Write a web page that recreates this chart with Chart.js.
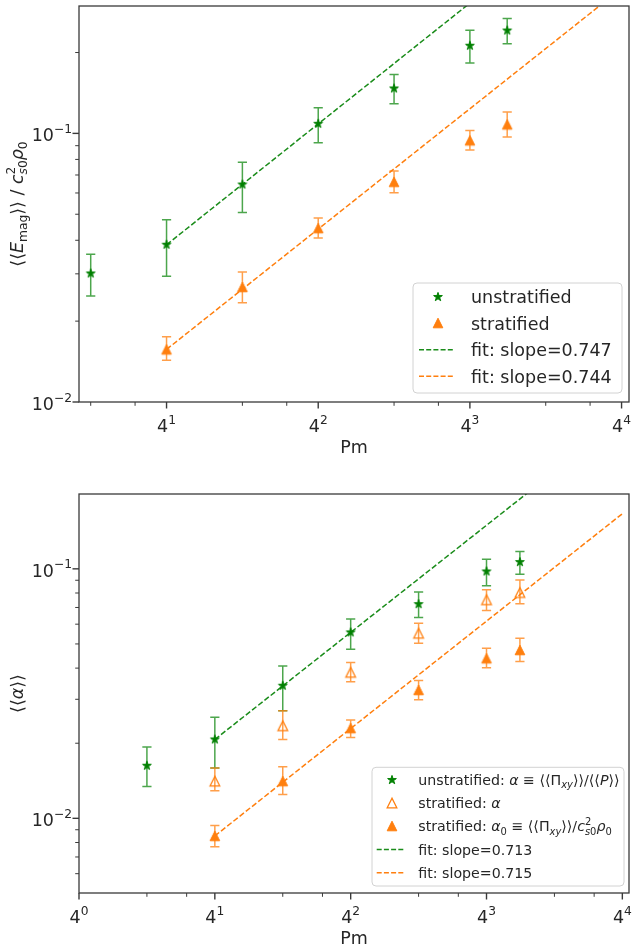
<!DOCTYPE html>
<html>
<head>
<meta charset="utf-8">
<script src="https://cdn.jsdelivr.net/npm/chart.js@4/dist/chart.umd.min.js"></script>
<style>
  html, body { margin: 0; padding: 0; background: #fff; }
  canvas { position: absolute; left: 0; }
</style>
</head>
<body>
<canvas id="emagChart" width="635" height="460" style="top:0"></canvas>
<canvas id="alphaChart" width="635" height="492" style="top:460px"></canvas>
<script>
// ---- data -------------------------------------------------------------
const pmUnstrat = [2, 4, 8, 16, 32, 64, 90];
const pmStrat   = [4, 8, 16, 32, 64, 90];

// magnetic energy, unstratified / stratified
const emagUnstrat   = [0.0301, 0.0385, 0.0645, 0.1086, 0.147, 0.212, 0.2415];
const emagUnstratLo = [0.0248, 0.0294, 0.0508, 0.0923, 0.1288, 0.183, 0.2155];
const emagUnstratHi = [0.0355, 0.0477, 0.078, 0.1245, 0.1655, 0.242, 0.268];
const emagStrat     = [0.0157, 0.0268, 0.0444, 0.066, 0.0942, 0.108];
const emagStratLo   = [0.0143, 0.0234, 0.0408, 0.0601, 0.0868, 0.097];
const emagStratHi   = [0.0175, 0.0305, 0.0484, 0.0724, 0.1026, 0.120];

// stress-to-pressure ratios
const alphaUnstrat   = [0.01625, 0.0207, 0.034, 0.0556, 0.0722, 0.0976, 0.1064];
const alphaUnstratLo = [0.0134, 0.0159, 0.027, 0.0476, 0.0638, 0.0855, 0.0952];
const alphaUnstratHi = [0.0193, 0.0254, 0.0408, 0.063, 0.0807, 0.1093, 0.1173];
const alphaStrat     = [0.0141, 0.0235, 0.0385, 0.0552, 0.0752, 0.0804];
const alphaStratLo   = [0.0129, 0.0207, 0.0353, 0.0503, 0.0681, 0.0724];
const alphaStratHi   = [0.0159, 0.027, 0.0421, 0.0605, 0.0824, 0.0903];
const alpha0Strat    = [0.0085, 0.0141, 0.023, 0.0327, 0.0438, 0.0473];
const alpha0StratLo  = [0.0077, 0.01245, 0.0211, 0.0299, 0.0401, 0.0425];
const alpha0StratHi  = [0.00935, 0.0161, 0.0248, 0.0357, 0.0481, 0.0527];

// power-law fits: [unstratified, stratified], value at Pm = 4
const fitPm          = [4, 256];
const emagFitSlopes  = [0.747, 0.744];
const emagFitAt4     = [0.0385, 0.0157];
const alphaFitSlopes = [0.713, 0.715];
const alphaFitAt4    = [0.0207, 0.0085];

// ticks (Pm axis is in powers of 4, y axis in decades)
const xTickExp   = [0, 1, 2, 3, 4];
const xMinorTick = [2, 3, 8, 12, 32, 48, 128, 192];
const yTickExp   = [-2, -1];
const yMinorTick = [0.006, 0.007, 0.008, 0.009, 0.02, 0.03, 0.04, 0.05, 0.06, 0.07, 0.08, 0.09, 0.2];

// ---- styling ------------------------------------------------------------
const FONT = '"DejaVu Sans", sans-serif';
const TEXT = '#262626';
const GREEN = '#008000';
const GREEN_BAR = 'rgba(0,128,0,0.7)';
const GREEN_FIT = '#1a8c1a';
const ORANGE = '#ff7f0e';
const ORANGE_BAR = 'rgba(255,127,14,0.75)';

function makeMarker(kind, color) {
  const c = document.createElement('canvas');
  c.width = 14; c.height = 14;
  const g = c.getContext('2d');
  const m = 7;
  g.fillStyle = color; g.strokeStyle = color; g.lineWidth = 1; g.lineJoin = 'miter';
  g.beginPath();
  if (kind === 'star') {
    const R = 4.6, r = R * 0.381966;
    for (let k = 0; k < 10; k++) {
      const a = -Math.PI / 2 + k * Math.PI / 5;
      const rr = k % 2 ? r : R;
      g.lineTo(m + rr * Math.cos(a), m + rr * Math.sin(a));
    }
    g.closePath(); g.fill(); g.stroke();
  } else {
    const h = 4.8;
    g.moveTo(m, m - h); g.lineTo(m - h, m + h); g.lineTo(m + h, m + h); g.closePath();
    if (kind === 'tri') { g.fill(); g.stroke(); }
    else { g.lineWidth = 1.3; g.stroke(); }
  }
  return c;
}
const starImg = makeMarker('star', GREEN);
const triImg = makeMarker('tri', ORANGE);
const openTriImg = makeMarker('open', ORANGE);

// ---- rich text (italic, sub- and superscripts) ----------------------------
function richLayout(ctx, items, size, x, y, draw) {
  let cx = x, stackEnd = -Infinity;
  for (const it of items) {
    const t = it[0], f = it[1] || '';
    const sub = f.includes('b'), sup = f.includes('p');
    if (!sub && !sup) { cx = Math.max(cx, stackEnd); stackEnd = -Infinity; }
    const s = (sub || sup) ? size * 0.7 : size;
    ctx.font = (f.includes('i') ? 'italic ' : '') + s.toFixed(2) + 'px ' + FONT;
    const w = ctx.measureText(t).width;
    const dy = sub ? size * 0.22 : sup ? -size * 0.48 : 0;
    if (draw) ctx.fillText(t, cx, y + dy);
    if (f.includes('k')) stackEnd = cx + w; else cx += w;
  }
  return Math.max(cx, stackEnd) - x;
}
function drawRich(ctx, items, size, x, y, align) {
  ctx.textBaseline = 'alphabetic';
  ctx.textAlign = 'left';
  const w = richLayout(ctx, items, size, 0, 0, false);
  const x0 = align === 'center' ? x - w / 2 : align === 'right' ? x - w : x;
  richLayout(ctx, items, size, x0, y, true);
}

// ---- axes decoration, error bars and legend -------------------------------
function decor(spec) {
  return {
    id: 'decor',
    beforeDatasetsDraw(chart) {
      const { ctx, scales: { x, y } } = chart;
      ctx.save();
      ctx.lineWidth = 1.5;
      chart.data.datasets.forEach(ds => {
        if (!ds.errLo) return;
        ctx.strokeStyle = ds.barColor;
        ctx.beginPath();
        ds.data.forEach((p, k) => {
          const px = x.getPixelForValue(p.x);
          const y1 = y.getPixelForValue(ds.errLo[k]);
          const y2 = y.getPixelForValue(ds.errHi[k]);
          const cap = 4.6;
          ctx.moveTo(px, y1); ctx.lineTo(px, y2);
          ctx.moveTo(px - cap, y1); ctx.lineTo(px + cap, y1);
          ctx.moveTo(px - cap, y2); ctx.lineTo(px + cap, y2);
        });
        ctx.stroke();
      });
      ctx.restore();
    },
    afterDraw(chart) {
      const { ctx, chartArea: a, scales: { x, y } } = chart;
      const inX = v => v >= x.min * 0.9999 && v <= x.max * 1.0001;
      const inYMajor = v => v >= y.min * 0.9999 && v <= y.max * 1.0001;
      const inYMinor = v => v > y.min * 1.001 && v < y.max / 1.001;
      ctx.save();
      ctx.strokeStyle = '#3a3a3a';
      ctx.fillStyle = TEXT;
      const seg = (x1, y1, x2, y2, w) => {
        ctx.lineWidth = w; ctx.beginPath(); ctx.moveTo(x1, y1); ctx.lineTo(x2, y2); ctx.stroke();
      };
      // x ticks
      xMinorTick.filter(inX).forEach(v => {
        const px = x.getPixelForValue(v);
        seg(px, a.bottom, px, a.bottom + 3.8, 1);
      });
      xTickExp.forEach(e => {
        const v = Math.pow(4, e);
        if (!inX(v)) return;
        const px = x.getPixelForValue(v);
        seg(px, a.bottom, px, a.bottom + 6.5, 1.4);
        drawRich(ctx, [['4'], [String(e), 'p']], 17.5, px, a.bottom + 30, 'center');
      });
      // y ticks
      yMinorTick.filter(inYMinor).forEach(v => {
        const py = y.getPixelForValue(v);
        seg(a.left - 3.8, py, a.left, py, 1);
      });
      yTickExp.forEach(e => {
        const v = Math.pow(10, e);
        if (!inYMajor(v)) return;
        const py = y.getPixelForValue(v);
        seg(a.left - 6.5, py, a.left, py, 1.4);
        drawRich(ctx, [['10'], ['\u2212' + Math.abs(e), 'p']], 17.5, a.left - 7, py + 8, 'right');
      });
      // frame
      ctx.lineWidth = 1.3;
      ctx.strokeRect(a.left, a.top, a.right - a.left, a.bottom - a.top);
      // axis titles
      drawRich(ctx, [['Pm']], 17.5, (a.left + a.right) / 2, a.bottom + 50.5, 'center');
      ctx.save();
      ctx.translate(spec.yTitleX, (a.top + a.bottom) / 2);
      ctx.rotate(-Math.PI / 2);
      drawRich(ctx, spec.yTitle, 17.5, 0, 0, 'center');
      ctx.restore();
      // legend
      const L = spec.legend;
      const [x0, y0, x1, y1] = L.box;
      ctx.beginPath();
      ctx.roundRect(x0, y0, x1 - x0, y1 - y0, 4);
      ctx.fillStyle = 'rgba(255,255,255,0.85)';
      ctx.fill();
      ctx.strokeStyle = '#d2d2d2';
      ctx.lineWidth = 1;
      ctx.stroke();
      L.rows.forEach((r, k) => {
        const base = y0 + L.first + k * L.step;
        const cy = base - L.markDy;
        if (r.img) {
          ctx.drawImage(r.img, Math.round(L.markX - r.img.width / 2), Math.round(cy - r.img.height / 2));
        } else {
          ctx.save();
          ctx.strokeStyle = r.color;
          ctx.lineWidth = 1.5;
          ctx.setLineDash([5, 2.2]);
          ctx.beginPath(); ctx.moveTo(L.lineX0, cy); ctx.lineTo(L.lineX1, cy); ctx.stroke();
          ctx.restore();
        }
        ctx.fillStyle = TEXT;
        drawRich(ctx, r.text, L.size, L.textX, base, 'left');
      });
      ctx.restore();
    }
  };
}

// ---- chart builders ---------------------------------------------------------
const pts = (xs, ys) => xs.map((v, k) => ({ x: v, y: ys[k] }));
const fitLine = (at4, slope) => fitPm.map(p => ({ x: p, y: at4 * Math.pow(p / 4, slope) }));

function markerSet(label, xs, ys, lo, hi, img, barColor) {
  return {
    type: 'scatter', label, data: pts(xs, ys), errLo: lo, errHi: hi, barColor,
    pointStyle: img, pointRadius: 5, pointHoverRadius: 5, showLine: false
  };
}
function fitSet(label, at4, slope, color) {
  return {
    type: 'line', label, data: fitLine(at4, slope), borderColor: color, borderWidth: 1.5,
    borderDash: [5.5, 2.4], pointRadius: 0, fill: false, tension: 0, clip: 0
  };
}

function makeChart(id, datasets, xMin, xMax, yMin, yMax, pad, xAxisH, spec) {
  return new Chart(document.getElementById(id), {
    type: 'scatter',
    data: { datasets },
    options: {
      responsive: false, animation: false, devicePixelRatio: 1, events: [],
      layout: { padding: { top: pad, right: 5, left: 0, bottom: 0 } },
      plugins: { legend: { display: false }, tooltip: { enabled: false } },
      scales: {
        x: {
          type: 'logarithmic', min: xMin, max: xMax, bounds: 'data',
          grid: { display: false }, border: { display: false }, ticks: { display: false },
          afterFit: s => { s.height = xAxisH; }
        },
        y: {
          type: 'logarithmic', min: yMin, max: yMax, bounds: 'data',
          grid: { display: false }, border: { display: false }, ticks: { display: false },
          afterFit: s => { s.width = 79; }
        }
      }
    },
    plugins: [decor(spec)]
  });
}

const fitLabel = s => [['fit: slope=' + s.toFixed(3)]];

// magnetic energy vs Pm
makeChart('emagChart', [
  markerSet('unstratified', pmUnstrat, emagUnstrat, emagUnstratLo, emagUnstratHi, starImg, GREEN_BAR),
  markerSet('stratified', pmStrat, emagStrat, emagStratLo, emagStratHi, triImg, ORANGE_BAR),
  fitSet('fit unstratified', emagFitAt4[0], emagFitSlopes[0], GREEN_FIT),
  fitSet('fit stratified', emagFitAt4[1], emagFitSlopes[1], ORANGE)
], 1.797, 274, 0.01, 0.298, 4, 58, {
  yTitleX: 23,
  yTitle: [['\u27e8\u27e8'], ['E', 'i'], ['mag', 'b'], ['\u27e9\u27e9 / '], ['c', 'i'], ['2', 'pk'], ['s', 'bi'], ['0', 'b'], ['\u03c1', 'i'], ['0', 'b']],
  legend: {
    box: [413, 283, 622, 393], first: 20.3, step: 26.5, markDy: 6.6,
    markX: 438, lineX0: 419, lineX1: 454, textX: 471, size: 17.5,
    rows: [
      { img: starImg, text: [['unstratified']] },
      { img: triImg, text: [['stratified']] },
      { color: GREEN_FIT, text: fitLabel(emagFitSlopes[0]) },
      { color: ORANGE, text: fitLabel(emagFitSlopes[1]) }
    ]
  }
});

// alpha vs Pm
makeChart('alphaChart', [
  markerSet('unstratified', pmUnstrat, alphaUnstrat, alphaUnstratLo, alphaUnstratHi, starImg, GREEN_BAR),
  markerSet('stratified alpha', pmStrat, alphaStrat, alphaStratLo, alphaStratHi, openTriImg, ORANGE_BAR),
  markerSet('stratified alpha0', pmStrat, alpha0Strat, alpha0StratLo, alpha0StratHi, triImg, ORANGE_BAR),
  fitSet('fit unstratified', alphaFitAt4[0], alphaFitSlopes[0], GREEN_FIT),
  fitSet('fit stratified', alphaFitAt4[1], alphaFitSlopes[1], ORANGE)
], 1, 274, 0.00502, 0.1995, 34, 59, {
  yTitleX: 23,
  yTitle: [['\u27e8\u27e8'], ['\u03b1', 'i'], ['\u27e9\u27e9']],
  legend: {
    box: [372, 307.3, 624, 426], first: 17.7, step: 23.2, markDy: 5,
    markX: 392.3, lineX0: 376.7, lineX1: 404, textX: 418.3, size: 14.2,
    rows: [
      { img: starImg, text: [['unstratified: '], ['\u03b1', 'i'], [' \u2261 \u27e8\u27e8\u03a0'], ['xy', 'bi'], ['\u27e9\u27e9/\u27e8\u27e8'], ['P', 'i'], ['\u27e9\u27e9']] },
      { img: openTriImg, text: [['stratified: '], ['\u03b1', 'i']] },
      { img: triImg, text: [['stratified: '], ['\u03b1', 'i'], ['0', 'b'], [' \u2261 \u27e8\u27e8\u03a0'], ['xy', 'bi'], ['\u27e9\u27e9/'], ['c', 'i'], ['2', 'pk'], ['s', 'bi'], ['0', 'b'], ['\u03c1', 'i'], ['0', 'b']] },
      { color: GREEN_FIT, text: fitLabel(alphaFitSlopes[0]) },
      { color: ORANGE, text: fitLabel(alphaFitSlopes[1]) }
    ]
  }
});
</script>
</body>
</html>
